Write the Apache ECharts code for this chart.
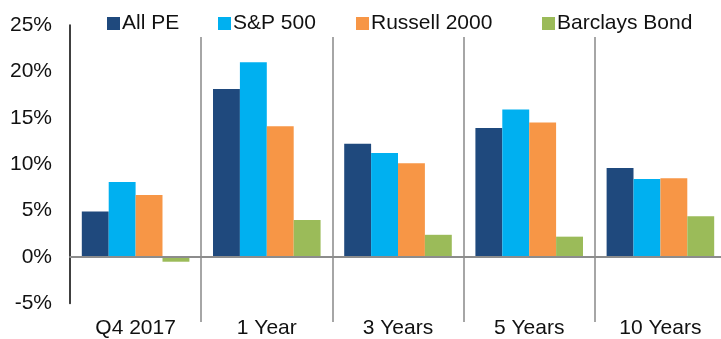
<!DOCTYPE html>
<html>
<head>
<meta charset="utf-8">
<script src="https://cdn.jsdelivr.net/npm/echarts@6/dist/echarts.min.js"></script>
<style>
  html, body { margin: 0; padding: 0; background: #fff; overflow: hidden; }
  /* the plot runs a few pixels past the right edge of the window */
  #chart { width: 732px; height: 339px; }
</style>
</head>
<body>
<div id="chart"></div>
<script>
// Annualised returns by horizon (percent)
const categories = ['Q4 2017', '1 Year', '3 Years', '5 Years', '10 Years'];
const allPE      = [4.9, 18.1, 12.2, 13.9, 9.6];
const sp500      = [8.1, 21.0, 11.2, 15.9, 8.4];
const russell    = [6.7, 14.1, 10.1, 14.5, 8.5];
const barclays   = [-0.5, 4.0, 2.4, 2.2, 4.4];
const seriesNames = ['All PE', 'S&P 500', 'Russell 2000', 'Barclays Bond'];
const seriesColors = ['#1F497D', '#00B0F0', '#F79646', '#9BBB59'];

const FONT = '"Liberation Sans", Arial, sans-serif';
const chart = echarts.init(document.getElementById('chart'));

const values = [allPE, sp500, russell, barclays];
const legendLeft = [107, 218, 356, 542];

chart.setOption({
  animation: false,
  backgroundColor: '#ffffff',
  legend: seriesNames.map((name, i) => ({
    data: [name],
    left: legendLeft[i],
    top: 13,
    itemWidth: 13,
    itemHeight: 13,
    icon: 'rect',
    padding: 0,
    textStyle: { fontFamily: FONT, fontSize: 21, color: '#111', lineHeight: 21, padding: [0, 0, 0, -3] }
  })),
  grid: [
    { left: 70, width: 656, top: 25, bottom: 35.5 },
    { left: 70, width: 656, top: 37, bottom: 17 }
  ],
  xAxis: [
    {
      type: 'category', gridIndex: 0, data: categories,
      axisLine: { onZero: true, lineStyle: { color: '#8c8c8c', width: 2 } },
      axisTick: { show: false },
      axisLabel: { show: false },
      z: 5
    },
    {
      // separators between the horizon groups
      type: 'category', gridIndex: 1, data: categories,
      axisLine: { show: false },
      axisTick: { show: false },
      axisLabel: { show: false },
      splitLine: {
        show: true,
        interval: (idx) => idx > 0,
        lineStyle: { color: '#a6a6a6', width: 2 }
      }
    },
    {
      type: 'category', gridIndex: 0, data: categories, position: 'bottom',
      axisLine: { show: false, onZero: false },
      axisTick: { show: false },
      axisLabel: { fontFamily: FONT, fontSize: 21, color: '#111', margin: 14 }
    }
  ],
  yAxis: [
    {
      type: 'value', gridIndex: 0, min: -5, max: 25, interval: 5,
      axisLine: { show: true, lineStyle: { color: '#000', width: 1.5 } },
      axisTick: { show: false },
      splitLine: { show: false },
      axisLabel: { formatter: '{value}%', fontFamily: FONT, fontSize: 21, color: '#111', margin: 18 }
    },
    { type: 'value', gridIndex: 1, show: false, splitLine: { show: false } }
  ],
  series: seriesNames.map((name, i) => ({
    name: name,
    type: 'bar',
    xAxisIndex: 0,
    yAxisIndex: 0,
    data: values[i],
    itemStyle: { color: seriesColors[i] },
    barGap: '0%',
    barCategoryGap: '18%'
  }))
});
</script>
</body>
</html>
